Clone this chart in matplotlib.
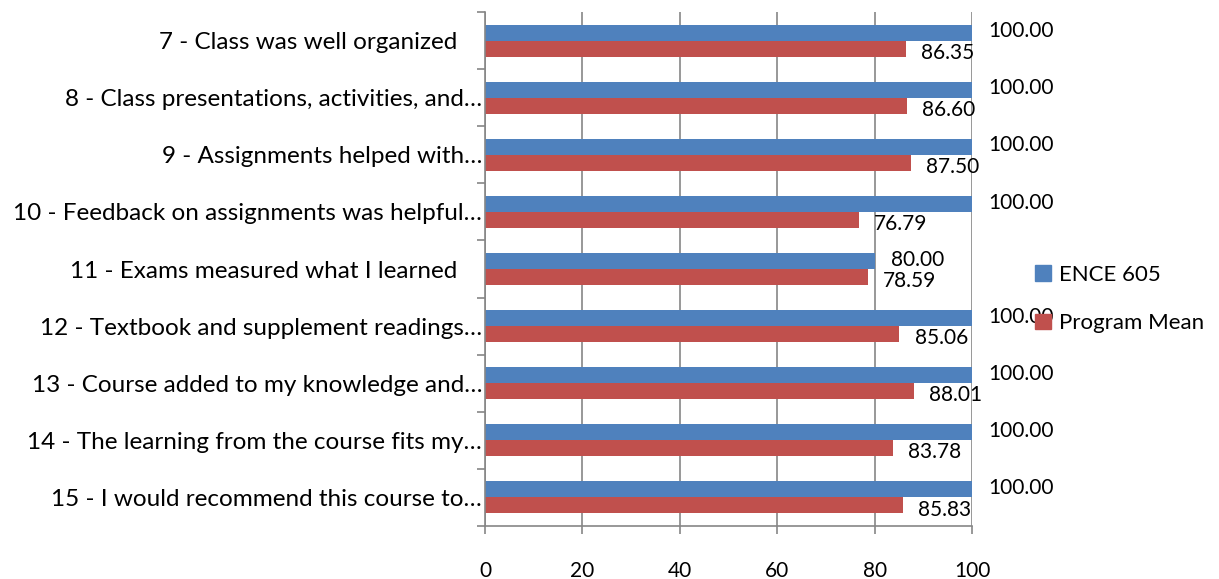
import numpy as np
import matplotlib
matplotlib.use("Agg")
import matplotlib.pyplot as plt
from matplotlib.patches import Patch

questions = [
  "7 - Class was well organized    ",
  "8 - Class presentations, activities, and\u2026",
  "9 - Assignments helped with\u2026",
  "10 - Feedback on assignments was helpful\u2026",
  "11 - Exams measured what I learned    ",
  "12 - Textbook and supplement readings\u2026",
  "13 - Course added to my knowledge and\u2026",
  "14 - The learning from the course fits my\u2026",
  "15 - I would recommend this course to\u2026",
]
ence = [100.00, 100.00, 100.00, 100.00, 80.00, 100.00, 100.00, 100.00, 100.00]
program_mean = [86.35, 86.60, 87.50, 76.79, 78.59, 85.06, 88.01, 83.78, 85.83]
xticks = [0, 20, 40, 60, 80, 100]

blue = "#4F81BD"
red = "#C0504D"
gray = "#868686"

plt.rcParams['font.family'] = ['Lato', 'DejaVu Sans']
plt.rcParams['font.size'] = 15

fig = plt.figure(figsize=(12.19, 5.79), dpi=100)
ax = fig.add_axes([485/1219, 1 - 526/579, (972 - 485)/1219, (526 - 12)/579])

y = np.arange(len(questions))
h = 0.28
ax.barh(y - h/2, ence, height=h, color=blue, zorder=2)
ax.barh(y + h/2, program_mean, height=h, color=red, zorder=2)

for yi, v in zip(y, ence):
  ax.annotate("%.2f" % v, (v, yi - h/2), xytext=(12, 1), textcoords="offset points",
              ha="left", va="center", fontsize=15)
for yi, v in zip(y, program_mean):
  ax.annotate("%.2f" % v, (v, yi + h/2), xytext=(11, -3), textcoords="offset points",
              ha="left", va="center", fontsize=15)

ax.set_xlim(0, 100)
ax.set_ylim(len(questions) - 0.5, -0.5)
ax.set_xticks(xticks)
ax.set_yticks(y)
ax.set_yticklabels(questions)
ax.set_yticks(np.arange(len(questions) + 1) - 0.5, minor=True)

ax.xaxis.grid(True, color=gray, linewidth=1.2, zorder=0)
ax.set_axisbelow(True)
for s in ["top", "right"]:
  ax.spines[s].set_visible(False)
for s in ["left", "bottom"]:
  ax.spines[s].set_color(gray)
  ax.spines[s].set_linewidth(1.2)

ax.tick_params(axis="x", direction="out", length=6, width=1.2, color=gray, pad=19, labelsize=15)
ax.tick_params(axis="y", which="major", length=0, pad=2, labelsize=17.5)
ax.tick_params(axis="y", which="minor", direction="out", length=6, width=1.2, color=gray)

handles = [Patch(color=blue), Patch(color=red)]
leg = ax.legend(handles, ["ENCE 605", "Program Mean"], loc="center left",
                bbox_to_anchor=(1015/1219, 1 - 299/579), bbox_transform=fig.transFigure,
                frameon=False, handlelength=0.7, handleheight=0.7, handletextpad=0.4,
                labelspacing=1.3, fontsize=16)
leg.set_zorder(10)

plt.savefig("out.png", dpi=100)
